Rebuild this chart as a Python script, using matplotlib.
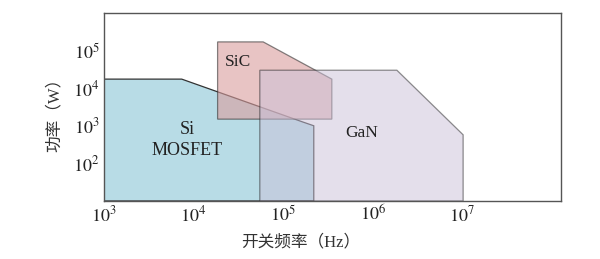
import matplotlib.pyplot as plt
from matplotlib.patches import Polygon

plt.rcParams['font.family'] = ['Liberation Serif', 'Noto Sans CJK SC']
plt.rcParams['mathtext.fontset'] = 'stix'

# polygon outlines (frequency Hz, power W)
si_f = [1e3, 7.4e3, 1.66e5, 2.2e5, 2.2e5, 1e3]
si_p = [1.74e4, 1.74e4, 1.26e3, 1.0e3, 10, 10]

sic_f = [1.86e4, 6e4, 3.5e5, 3.5e5, 1.86e4]
sic_p = [1.7e5, 1.7e5, 1.74e4, 1.5e3, 1.5e3]

gan_f = [5.5e4, 1.86e6, 1.02e7, 1.02e7, 5.5e4]
gan_p = [3e4, 3e4, 575, 10, 10]

xticks = [1e3, 1e4, 1e5, 1e6, 1e7]
yticks = [1e2, 1e3, 1e4, 1e5]

fig = plt.figure(figsize=(6, 2.59), dpi=100)
ax = fig.add_axes([0.173, 0.224, 0.762, 0.726])
ax.set_xscale('log')
ax.set_yscale('log')
ax.set_xlim(1e3, 1.26e8)
ax.set_ylim(10, 1e6)

ax.add_patch(Polygon(list(zip(si_f, si_p)), closed=True, facecolor='#b8dce6',
                     edgecolor='#333333', lw=0.9, zorder=2))
ax.add_patch(Polygon(list(zip(sic_f, sic_p)), closed=True, facecolor='#da9d9d',
                     alpha=0.6, edgecolor='#333333', lw=0.9, zorder=3))
ax.add_patch(Polygon(list(zip(gan_f, gan_p)), closed=True, facecolor='#cbc1d9',
                     alpha=0.5, edgecolor='#222222', lw=0.9, zorder=4))

ax.text(8.5e3, 420, 'Si\nMOSFET', ha='center', va='center', fontsize=13,
        linespacing=1.3, zorder=5, color='#222222')
ax.text(3.15e4, 5e4, 'SiC', ha='center', va='center', fontsize=12.5, zorder=5,
        color='#222222')
ax.text(7.6e5, 650, 'GaN', ha='center', va='center', fontsize=12.5, zorder=5,
        color='#222222')

ax.set_xticks(xticks)
ax.set_yticks(yticks)
ax.set_xticklabels([r'$10^{%d}$' % i for i in range(3, 8)])
ax.set_yticklabels([r'$10^{%d}$' % i for i in range(2, 6)])
ax.minorticks_off()
ax.tick_params(length=0, labelsize=13, pad=3, colors='#222222')
for s in ax.spines.values():
    s.set_color('#555555')
    s.set_linewidth(1.0)

ax.set_xlabel('开关频率（Hz）', fontsize=12, color='#333333')
ax.set_ylabel('功率（W）', fontsize=12, color='#333333')
ax.xaxis.set_label_coords(0.43, -0.18)
ax.yaxis.set_label_coords(-0.09, 0.48)

fig.savefig('out.png', dpi=100)
